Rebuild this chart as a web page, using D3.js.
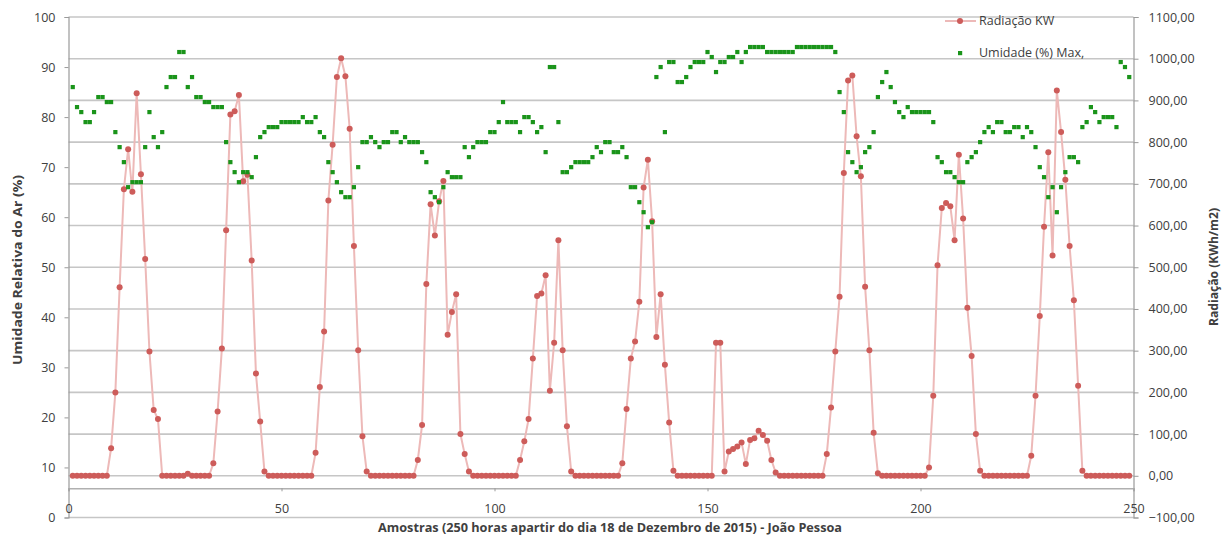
<!DOCTYPE html>
<html><head><meta charset="utf-8">
<script src="https://cdn.jsdelivr.net/npm/d3@7"></script>
<style>
body{margin:0;background:#fff;}
text{font-family:"Open Sans","Noto Sans",sans-serif;fill:#404040;}
</style></head>
<body><svg id="c" width="1232" height="537"></svg>
<script>
// Radiação KW (right axis), samples 1..249
const radiacao = [
0,0,0,0,0,0,0,0,0,66,200,452,687,783,681,917,723,520,298,158,
136,0,0,0,0,0,0,5,0,0,0,0,0,30,154,305,589,866,874,913,
706,722,516,245,130,10,0,0,0,0,0,0,0,0,0,0,0,55,213,346,
660,794,956,1001,958,832,551,301,95,10,0,0,0,0,0,0,0,0,0,0,
0,38,122,460,651,576,658,707,338,393,435,100,52,10,0,0,0,0,0,0,
0,0,0,0,0,38,83,136,281,431,437,481,204,319,565,301,119,10,0,0,
0,0,0,0,0,0,0,0,0,30,160,281,322,417,691,758,610,333,435,266,
128,12,0,0,0,0,0,0,0,0,0,319,319,10,58,64,70,80,28,86,
90,108,98,84,38,8,0,0,0,0,0,0,0,0,0,0,0,52,164,298,
429,726,948,960,814,718,453,301,103,6,0,0,0,0,0,0,0,0,0,0,
0,20,192,505,642,654,646,565,770,617,403,287,100,12,0,0,0,0,0,0,
0,0,0,0,0,48,192,383,597,776,528,924,824,710,551,421,216,12,0,0,
0,0,0,0,0,0,0,0,0];
// Umidade (%) Max, (left axis)
const umidade = [
86,82,81,79,79,81,84,84,83,83,77,74,71,66,67,67,67,74,81,76,
74,77,86,88,88,93,93,86,88,84,84,83,83,82,82,82,75,71,69,67,
69,69,68,72,76,77,78,78,78,79,79,79,79,79,80,79,79,80,77,76,
71,69,67,65,64,64,66,70,75,75,76,75,74,75,75,77,77,75,76,75,
75,75,73,71,65,64,63,66,69,68,68,68,74,72,74,75,75,75,77,77,
79,83,79,79,79,77,80,80,79,77,78,73,90,90,79,69,69,70,71,71,
71,71,72,74,73,75,75,73,73,74,72,66,66,63,61,58,59,88,90,77,
91,91,87,87,88,90,91,91,91,93,92,89,91,91,92,92,93,91,93,94,
94,94,94,93,93,93,93,93,93,93,94,94,94,94,94,94,94,94,94,93,
85,81,73,71,69,70,73,74,77,84,87,89,86,83,81,80,82,81,81,81,
81,81,79,72,71,69,69,68,67,67,71,72,73,75,77,78,77,79,79,77,
77,78,78,76,78,77,74,70,68,64,66,61,66,69,72,72,71,78,79,82,
81,79,80,80,80,78,91,90,88];
const amostras = d3.range(1, radiacao.length + 1);
const xTicks = [0,50,100,150,200,250];
const leftTicks = [0,10,20,30,40,50,60,70,80,90,100];
const rightTicks = [-100,0,100,200,300,400,500,600,700,800,900,1000,1100];
const legendLabels = ["Radiação KW", "Umidade (%) Max,"];
const titleX = "Amostras (250 horas apartir do dia 18 de Dezembro de 2015) - João Pessoa";
const titleL = "Umidade Relativa do Ar (%)";
const titleR = "Radiação (KWh/m2)";

const svg = d3.select("#c");
const L = 68.5, R = 1133.5, T = 17, B = 517.5;
const x = d3.scaleLinear().domain([0,250]).range([L, R]);
const yL = d3.scaleLinear().domain([0,100]).range([B, T]);
const yR = d3.scaleLinear().domain([-100,1100]).range([B, T]);
const fmtR = v => d3.format(".2f")(v).replace(".", ",");

// gridlines (right axis)
svg.append("g").selectAll("line").data(rightTicks).join("line")
  .attr("x1", L).attr("x2", R).attr("y1", d => yR(d)).attr("y2", d => yR(d))
  .attr("stroke", "#c6c6c6").attr("stroke-width", 1.6);

// left axis
const gl = svg.append("g").attr("transform", `translate(${L},0)`)
  .call(d3.axisLeft(yL).tickValues(leftTicks).tickSize(4).tickPadding(9));
gl.select(".domain").attr("stroke", "#9a9a9a").attr("stroke-width", 1.2);
gl.selectAll(".tick line").attr("stroke", "#9a9a9a");
gl.selectAll(".tick text").style("font-size", "12.5px").attr("fill", "#404040");

// right axis
const gr = svg.append("g").attr("transform", `translate(${R},0)`)
  .call(d3.axisRight(yR).tickValues(rightTicks).tickFormat(fmtR).tickSize(5).tickPadding(10));
gr.select(".domain").attr("stroke", "#9a9a9a").attr("stroke-width", 1.2);
gr.selectAll(".tick line").attr("stroke", "#9a9a9a");
gr.selectAll(".tick text").style("font-size", "12.5px").attr("fill", "#404040");

// x axis line (at y ~488)
const xAxisY = yR(-30);
const gx = svg.append("g").attr("transform", `translate(0,${xAxisY})`)
  .call(d3.axisBottom(x).tickValues(xTicks).tickSize(3).tickPadding(13));
gx.select(".domain").attr("stroke", "#b0b0b0").attr("stroke-width", 1.6);
gx.selectAll(".tick line").attr("stroke", "#9a9a9a");
gx.selectAll(".tick text").style("font-size", "12.5px").attr("fill", "#404040");

// radiation line + markers
const line = d3.line().x((d,i) => x(amostras[i])).y(d => yR(d));
svg.append("path").datum(radiacao).attr("d", line)
  .attr("fill", "none").attr("stroke", "#edb9b8").attr("stroke-width", 2);
svg.append("g").selectAll("circle").data(radiacao).join("circle")
  .attr("cx", (d,i) => x(amostras[i])).attr("cy", d => yR(d)).attr("r", 3)
  .attr("fill", "#cd5c5a");

// humidity squares
const s = 4.2;
svg.append("g").selectAll("rect").data(umidade).join("rect")
  .attr("x", (d,i) => x(amostras[i]) - s/2).attr("y", d => yL(d) - s/2)
  .attr("width", s).attr("height", s).attr("fill", "#1a941a");

// legend
const lg = svg.append("g");
lg.append("line").attr("x1", 945).attr("x2", 976).attr("y1", 21).attr("y2", 21)
  .attr("stroke", "#edb9b8").attr("stroke-width", 2);
lg.append("circle").attr("cx", 960).attr("cy", 21).attr("r", 3).attr("fill", "#cd5c5a");
lg.append("rect").attr("x", 958).attr("y", 51).attr("width", s).attr("height", s).attr("fill", "#1a941a");
lg.selectAll("text").data(legendLabels).join("text")
  .attr("x", 979).attr("y", (d,i) => 25 + i*32).style("font-size", "12.5px").text(d => d);

// titles
svg.append("text").attr("x", 610).attr("y", 532).attr("text-anchor", "middle")
  .style("font-size", "12px").style("font-weight", "bold").attr("fill", "#333")
  .attr("textLength", 464).attr("lengthAdjust", "spacingAndGlyphs").text(titleX);
svg.append("text").attr("transform", "translate(22,270) rotate(-90)").attr("text-anchor", "middle")
  .style("font-size", "12px").style("font-weight", "bold").attr("fill", "#333")
  .attr("textLength", 190).attr("lengthAdjust", "spacingAndGlyphs").text(titleL);
svg.append("text").attr("transform", "translate(1218,267) rotate(-90)").attr("text-anchor", "middle")
  .style("font-size", "12px").style("font-weight", "bold").attr("fill", "#333")
  .attr("textLength", 118).attr("lengthAdjust", "spacingAndGlyphs").text(titleR);
</script></body></html>
